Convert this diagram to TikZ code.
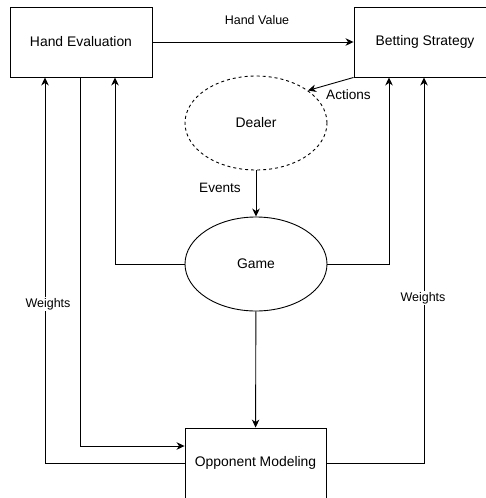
\documentclass[tikz,border=0pt]{standalone}
\usepackage{fontspec}
\setmainfont{Liberation Sans}
\usetikzlibrary{shapes.geometric,arrows.meta}

\begin{document}
\begin{tikzpicture}[x=1pt,y=-1pt,
  line width=0.9pt,
  font=\fontsize{13.9}{16}\selectfont,
  box/.style={draw,rectangle,inner sep=0pt,minimum width=142pt,minimum height=70pt},
  oval/.style={draw,ellipse,inner sep=0pt,minimum width=142pt,minimum height=94pt},
  conn/.style={-{Stealth[length=8pt,width=7.5pt,inset=2.5pt]}},
  lbl/.style={font=\fontsize{12.5}{14}\selectfont,fill=white,inner sep=1pt},
  biglbl/.style={lbl,font=\fontsize{13.6}{15}\selectfont}]
  \useasboundingbox (0,0) rectangle (486,498);

  % components
  \node[box] (he) at (81,42) {Hand Evaluation};
  \node[box] (bs) at (425,42) {Betting Strategy};
  \node[oval,dashed] (dealer) at (256,123) {Dealer};
  \node[oval] (game) at (256,264) {Game};
  \node[box,minimum width=141pt] (om) at (255.5,463) {Opponent Modeling};

  % flows
  \draw[conn] (he) -- (bs);
  \node[lbl] (lhv) at (257,20) {Hand Value};

  \draw[conn] (bs.south west) -- (dealer.32);
  \node[biglbl] (lact) at (348.5,95) {Actions};

  \draw[conn] (dealer) -- (game);
  \node[biglbl] (lev) at (220,188) {Events};

  \draw[conn] (game.west) -| ([xshift=34pt]he.south);
  \draw[conn] (game.east) -| ([xshift=-36pt]bs.south);
  \draw[conn] (game) -- (om);

  \draw[conn] ([xshift=-1pt]he.south) |- ([yshift=17pt]om.west);
  \draw[conn] (om.west) -| ([xshift=-36pt]he.south);
  \draw[conn] (om.east) -| ([xshift=-1pt]bs.south);
  \node[lbl] (lw1) at (48,304) {Weights};
  \node[lbl] (lw2) at (423,298) {Weights};
\end{tikzpicture}
\end{document}
